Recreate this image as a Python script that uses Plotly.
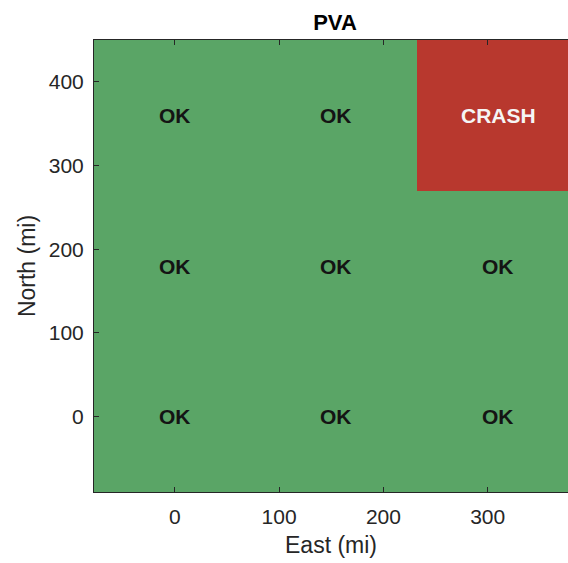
import plotly.graph_objects as go

east = [0, 155, 310]
north = [0, 180, 360]
status = [["OK", "OK", "OK"],
          ["OK", "OK", "OK"],
          ["OK", "OK", "CRASH"]]
x_ticks = [0, 100, 200, 300]
y_ticks = [0, 100, 200, 300, 400]

z = [[1 if s == "CRASH" else 0 for s in row] for row in status]

fig = go.Figure()
fig.add_trace(go.Heatmap(
    x=east, y=north, z=z, zmin=0, zmax=1,
    colorscale=[[0, "#5aa566"], [0.5, "#5aa566"], [0.5, "#b8382e"], [1, "#b8382e"]],
    showscale=False, hoverinfo="skip"))

for i, yv in enumerate(north):
    for j, xv in enumerate(east):
        s = status[i][j]
        fig.add_annotation(
            x=xv, y=yv, text=f"<b>{s}</b>", showarrow=False, yshift=0,
            font=dict(family="Liberation Sans, Arial", size=21,
                      color="#f5f5f5" if s == "CRASH" else "#141414"))

fig.update_layout(
    width=568, height=563,
    margin=dict(l=94, r=0, t=40, b=71),
    paper_bgcolor="white", plot_bgcolor="white",
    font=dict(family="Liberation Sans, Arial", color="#262626"),
    title=dict(text="<b>PVA</b>", x=(335 - 94) / 474, xanchor="center", xref="paper",
               y=1 - 22 / 563, yanchor="middle", font=dict(size=22, color="black")),
    showlegend=False,
)
fig.update_xaxes(range=[-77.5, 377], tickvals=x_ticks, ticks="inside", ticklen=5,
                 tickcolor="#262626", showline=True, linecolor="#262626", linewidth=1,
                 mirror="ticks", showgrid=False, zeroline=False, ticklabelstandoff=6,
                 tickfont=dict(size=21), title=dict(text="East (mi)", font=dict(size=23), standoff=9))
fig.update_yaxes(range=[-90, 450], tickvals=y_ticks, ticks="inside", ticklen=5,
                 tickcolor="#262626", showline=True, linecolor="#262626", linewidth=1,
                 showgrid=False, zeroline=False, ticklabelstandoff=5,
                 tickfont=dict(size=21), title=dict(text="North (mi)", font=dict(size=23), standoff=6))

fig.write_html("out.html", config={"displayModeBar": False},
               post_script="document.body.style.margin='0';document.body.style.overflow='hidden';")
